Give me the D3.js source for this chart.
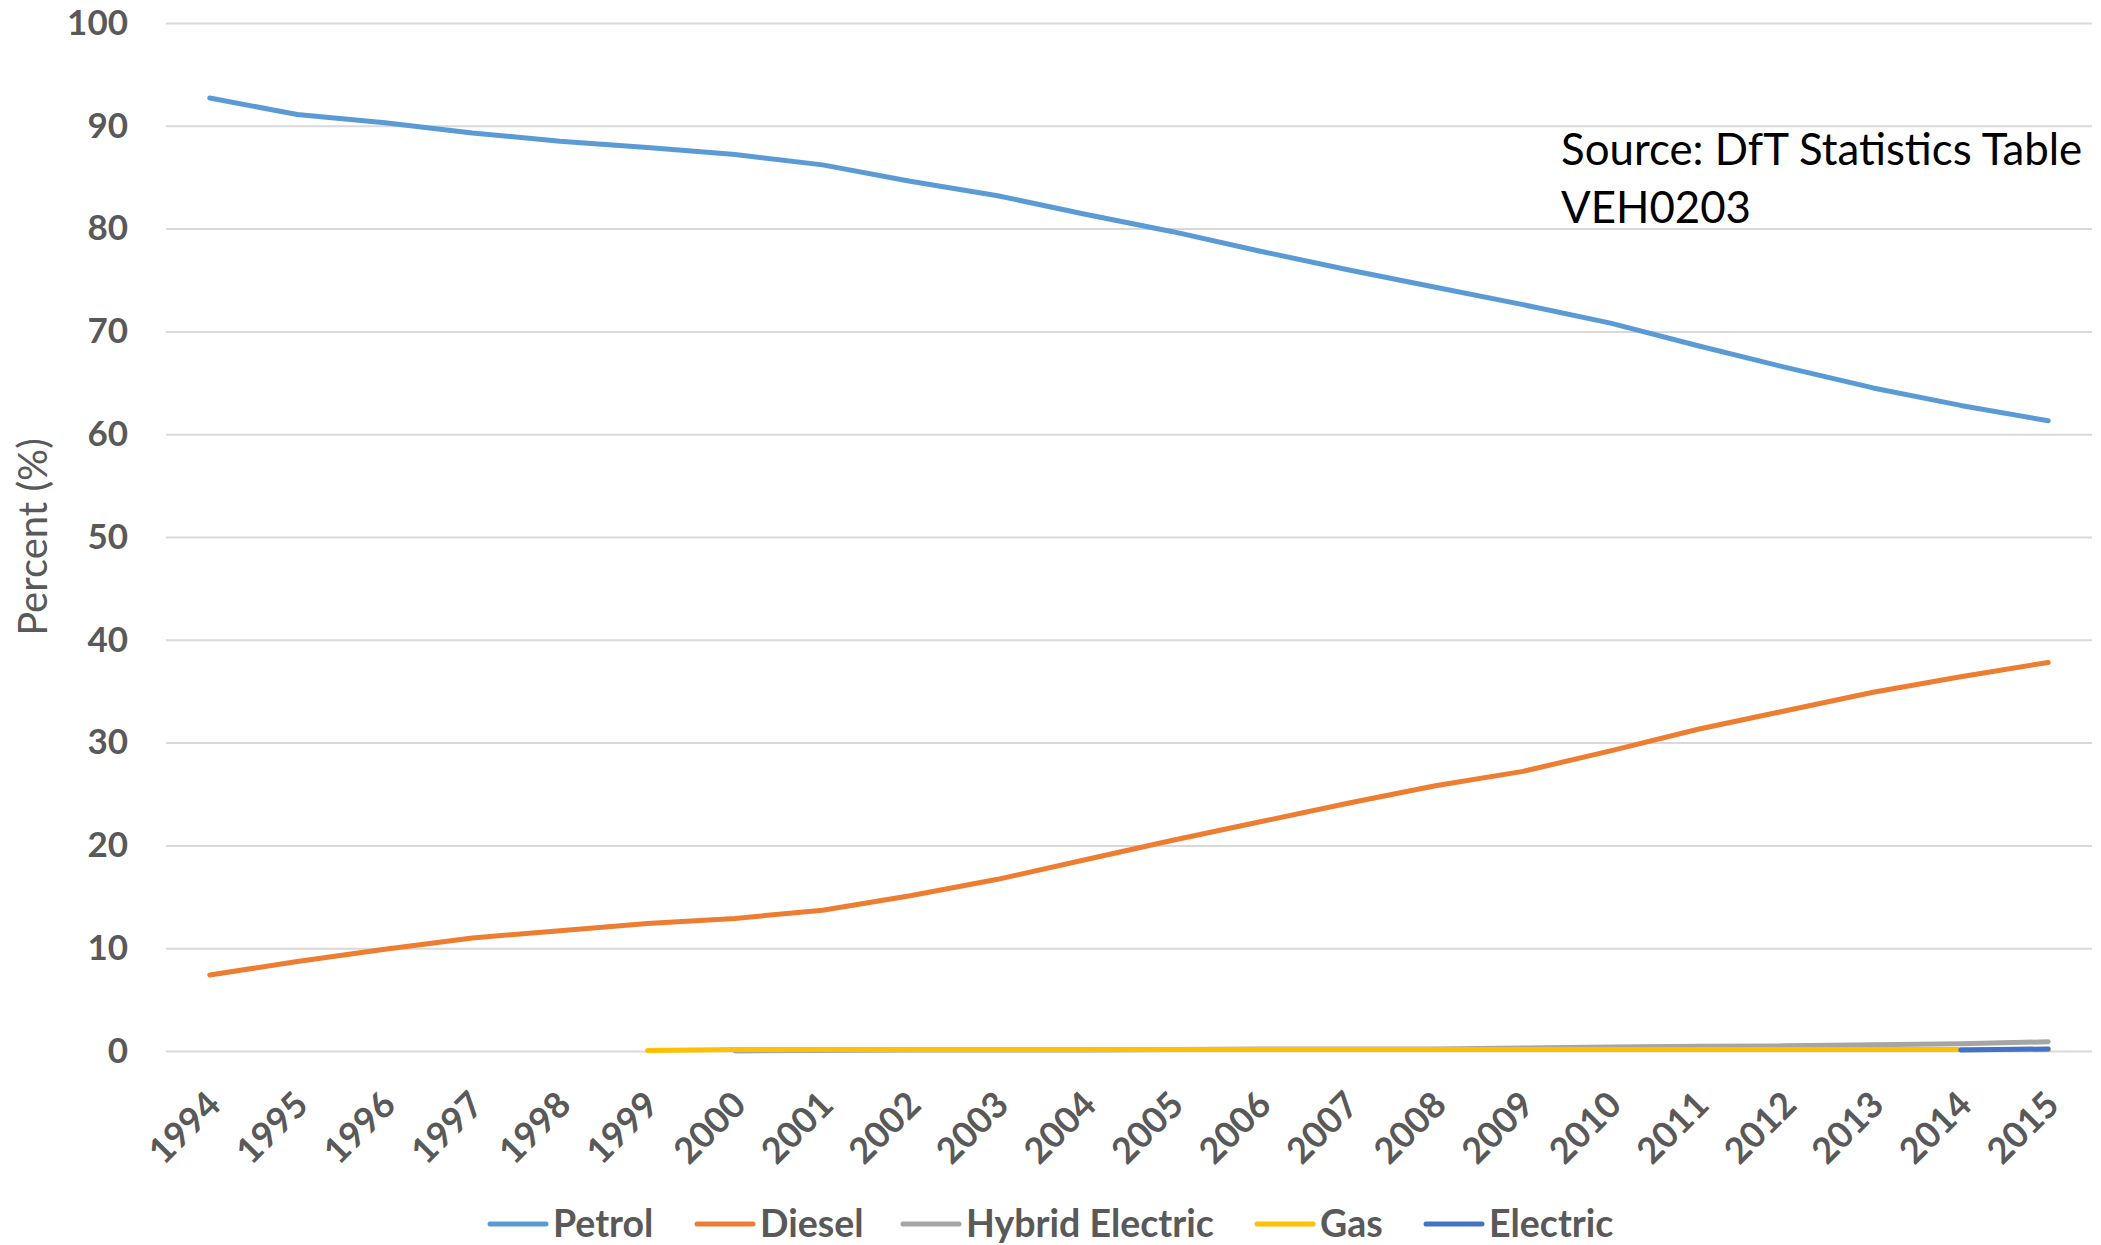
<!DOCTYPE html>
<html>
<head>
<meta charset="utf-8">
<script src="https://cdn.jsdelivr.net/npm/d3@7"></script>
<style>
  body { margin: 0; background: #fff; }
  svg { display: block; font-family: Lato, "Open Sans", sans-serif; }
</style>
</head>
<body>
<svg id="chart" width="2101" height="1245"></svg>
<script>
// data
const years = [1994, 1995, 1996, 1997, 1998, 1999, 2000, 2001, 2002, 2003, 2004,
    2005, 2006, 2007, 2008, 2009, 2010, 2011, 2012, 2013, 2014, 2015];

const petrol = [92.7, 91.1, 90.3, 89.3, 88.5, 87.9, 87.2, 86.2, 84.6, 83.2, 81.4,
    79.7, 77.8, 76.0, 74.3, 72.6, 70.8, 68.6, 66.5, 64.5, 62.8, 61.3];
const diesel = [7.4, 8.7, 9.9, 11.0, 11.7, 12.4, 12.9, 13.7, 15.1, 16.7, 18.6,
    20.5, 22.3, 24.1, 25.8, 27.2, 29.2, 31.3, 33.1, 34.9, 36.4, 37.8];
const hybrid = [null, null, null, null, null, null, 0.0, 0.05, 0.1, 0.1, 0.1,
    0.15, 0.2, 0.2, 0.2, 0.3, 0.4, 0.45, 0.5, 0.6, 0.7, 0.9];
const gas = [null, null, null, null, null, 0.05, 0.15, 0.15, 0.15, 0.15, 0.15,
    0.15, 0.15, 0.15, 0.15, 0.15, 0.15, 0.15, 0.15, 0.15, 0.15, 0.15];
const electric = [null, null, null, null, null, null, null, null, null, null, null,
    null, null, null, null, null, null, null, null, null, 0.1, 0.2];

const yTicks = [0, 10, 20, 30, 40, 50, 60, 70, 80, 90, 100];

const series = [
    { name: 'Petrol', values: petrol, color: '#5B9BD5' },
    { name: 'Diesel', values: diesel, color: '#ED7D31' },
    { name: 'Hybrid Electric', values: hybrid, color: '#A5A5A5' },
    { name: 'Gas', values: gas, color: '#FFC000' },
    { name: 'Electric', values: electric, color: '#4472C4' },
];

const svg = d3.select('#chart');
const plotLeft = 166;
const plotRight = 2092;
const plotTop = 23;
const plotBottom = 1051;
const grey = '#595959';
const font = 'Lato, "Open Sans", sans-serif';

const x = d3.scaleBand().domain(years).range([plotLeft, plotRight]);
const y = d3.scaleLinear().domain([0, 100]).range([plotBottom, plotTop]);

// gridlines + y labels
const yAxis = d3.axisLeft(y).tickValues(yTicks).tickSize(-(plotRight - plotLeft)).tickPadding(38);
const gy = svg.append('g')
    .attr('transform', `translate(${plotLeft},0)`)
    .call(yAxis)
    .attr('font-family', font);
gy.select('.domain').remove();
gy.selectAll('.tick line').attr('stroke', '#D9D9D9').attr('stroke-width', 2);
gy.selectAll('.tick text')
    .attr('fill', grey)
    .attr('font-size', 35)
    .attr('font-weight', 'bold');

// x labels, rotated
const xAxis = d3.axisBottom(x).tickSize(0).tickPadding(0);
const gx = svg.append('g')
    .attr('transform', `translate(0,${plotBottom})`)
    .call(xAxis)
    .attr('font-family', font);
gx.select('.domain').remove();
gx.selectAll('.tick text')
    .attr('fill', grey)
    .attr('font-size', 36)
    .attr('font-weight', 'bold')
    .attr('text-anchor', 'end')
    .attr('dy', null)
    .attr('y', null)
    .attr('transform', 'translate(13,56) rotate(-45)');

// lines
const line = d3.line()
    .defined((d) => d != null)
    .x((d, i) => x(years[i]) + x.bandwidth() / 2)
    .y((d) => y(d));

svg.append('g')
    .selectAll('path')
    .data(series)
    .join('path')
    .attr('fill', 'none')
    .attr('stroke', (d) => d.color)
    .attr('stroke-width', 5)
    .attr('stroke-linejoin', 'round')
    .attr('stroke-linecap', 'round')
    .attr('d', (d) => line(d.values));

// y axis title
svg.append('text')
    .attr('transform', 'translate(47,537) rotate(-90)')
    .attr('text-anchor', 'middle')
    .attr('fill', grey)
    .attr('font-size', 40)
    .text('Percent (%)');

// source note
const note = svg.append('text')
    .attr('x', 1561)
    .attr('y', 165)
    .attr('fill', '#000')
    .attr('font-size', 43.8);
note.append('tspan').attr('x', 1561).text('Source: DfT Statistics Table');
note.append('tspan').attr('x', 1561).attr('dy', 58).text('VEH0203');

// legend
const legendX = [490, 697, 903, 1257, 1426];
const legend = svg.append('g')
    .selectAll('g')
    .data(series)
    .join('g')
    .attr('transform', (d, i) => `translate(${legendX[i]},1224)`);
legend.append('line')
    .attr('x1', 0)
    .attr('x2', 56)
    .attr('stroke', (d) => d.color)
    .attr('stroke-width', 5)
    .attr('stroke-linecap', 'round');
legend.append('text')
    .attr('x', 63)
    .attr('dy', '0.35em')
    .attr('fill', grey)
    .attr('font-size', 37.5)
    .attr('font-weight', 'bold')
    .text((d) => d.name);
</script>
</body>
</html>
